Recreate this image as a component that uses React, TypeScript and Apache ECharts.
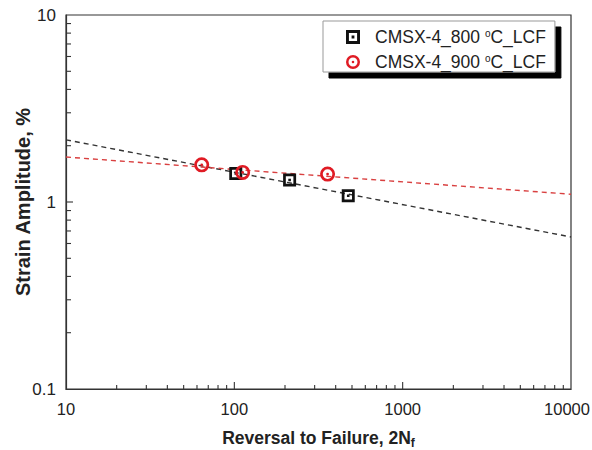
import React, { useEffect, useRef } from "react";
import * as echarts from "echarts";

const reversals800 = [102, 213, 475];
const strain800 = [1.42, 1.31, 1.08];
const reversals900 = [64, 112, 358];
const strain900 = [1.58, 1.44, 1.41];
const fit800X = [10, 10000];
const fit800Y = [2.15, 0.65];
const fit900X = [10, 10000];
const fit900Y = [1.74, 1.10];
const xMajorTicks = [100, 1000];
const yMajorTicks = [1];
const xMinorTicks = [20, 30, 40, 50, 60, 70, 80, 90, 200, 300, 400, 500, 600, 700, 800, 900, 2000, 3000, 4000, 5000, 6000, 7000, 8000, 9000];
const yMinorTicks = [0.2, 0.3, 0.4, 0.5, 0.6, 0.7, 0.8, 0.9, 2, 3, 4, 5, 6, 7, 8, 9];
const seriesNames = ["CMSX-4_800 °C_LCF", "CMSX-4_900 °C_LCF"];

const SQUARE = "path://M0,0H12V12H0Z M2.5,2.5V9.5H9.5V2.5Z M4.8,4.8H7.2V7.2H4.8Z";
const CIRCLE = "path://M7,0A7,7 0 1,1 7,14A7,7 0 1,1 7,0Z M7,2.5A4.5,4.5 0 1,0 7,11.5A4.5,4.5 0 1,0 7,2.5Z M7,5.7A1.3,1.3 0 1,1 7,8.3A1.3,1.3 0 1,1 7,5.7Z";

export default function App() {
  const ref = useRef<HTMLDivElement>(null);
  useEffect(() => {
    if (!ref.current) return;
    const chart = echarts.init(ref.current, null, { renderer: "svg" });
    const font = "'Liberation Sans', Arial, sans-serif";
    chart.setOption({
      animation: false,
      backgroundColor: "#fff",
      grid: {
        left: 66,
        right: 21,
        top: 15,
        bottom: 61,
        containLabel: false,
        outerBoundsMode: "none",
        show: true,
        borderColor: "#333",
        borderWidth: 1.2,
        backgroundColor: "transparent",
      },
      legend: {
        data: [
          { name: seriesNames[0], icon: SQUARE },
          { name: seriesNames[1], icon: CIRCLE },
        ],
        orient: "vertical",
        left: 323,
        top: 21,
        padding: [7, 9, 1, 23],
        itemWidth: 34,
        itemHeight: 14,
        itemGap: 7,
        backgroundColor: "#fff",
        borderColor: "#999",
        borderWidth: 1,
        shadowColor: "#000",
        shadowBlur: 0,
        shadowOffsetX: 6,
        shadowOffsetY: 6,
        formatter: (name: string) => {
          const t = name.split(" °");
          return `{a|${t[0]} }{s|o}{a|${t[1]}}`;
        },
        textStyle: {
          rich: {
            a: { fontFamily: font, fontSize: 17.5, color: "#222" },
            s: { fontFamily: font, fontSize: 10, color: "#222", verticalAlign: "top", padding: [0, 0, 8, 0] },
          },
        },
      },
      xAxis: {
        type: "log",
        logBase: 10,
        min: 10,
        max: 10000,
        name: "{m|Reversal to Failure, 2N}{sub|f}",
        nameLocation: "middle",
        nameGap: 38,
        nameMoveOverlap: false,
        nameTextStyle: {
          rich: {
            m: { fontFamily: font, fontSize: 17.5, fontWeight: "bold", color: "#222" },
            sub: { fontFamily: font, fontSize: 12, fontWeight: "bold", color: "#222", padding: [10, 0, 0, 0] },
          },
        },
        axisLine: { show: true, lineStyle: { color: "#333", width: 1.2 } },
        axisTick: { show: false },
        axisLabel: {
          fontFamily: font,
          fontSize: 16.5,
          color: "#222",
          margin: 11,
          formatter: (v: number) => (v >= 10000 ? `{r|${v}}` : String(v)),
          rich: { r: { fontFamily: font, fontSize: 16.5, color: "#222", padding: [0, 8, 0, 0] } },
        },
        splitLine: { show: false },
      },
      yAxis: {
        type: "log",
        logBase: 10,
        min: 0.1,
        max: 10,
        name: "Strain Amplitude, %",
        nameLocation: "middle",
        nameGap: 33,
        nameMoveOverlap: false,
        nameTextStyle: { fontFamily: font, fontSize: 20, fontWeight: "bold", color: "#222" },
        axisLine: { show: true, lineStyle: { color: "#333", width: 1.2 } },
        axisTick: { show: false },
        axisLabel: { fontFamily: font, fontSize: 17, color: "#222", margin: 10, formatter: (v: number) => String(v) },
        splitLine: { show: false },
      },
      series: [
        {
          name: "fit800",
          type: "line",
          data: fit800X.map((x, i) => [x, fit800Y[i]]),
          showSymbol: false,
          symbol: "none",
          lineStyle: { color: "#333", width: 1.4, type: [5, 4] },
          z: 2,
        },
        {
          name: "fit900",
          type: "line",
          data: fit900X.map((x, i) => [x, fit900Y[i]]),
          showSymbol: false,
          symbol: "none",
          lineStyle: { color: "#d94040", width: 1.4, type: [5, 4] },
          z: 2,
        },
        {
          name: seriesNames[0],
          type: "scatter",
          symbol: SQUARE,
          symbolSize: 13,
          itemStyle: { color: "#111", opacity: 1 },
          data: reversals800.map((x, i) => [x, strain800[i]]),
          z: 3,
        },
        {
          name: seriesNames[1],
          type: "scatter",
          symbol: CIRCLE,
          symbolSize: 15,
          itemStyle: { color: "#e01b24", opacity: 1 },
          data: reversals900.map((x, i) => [x, strain900[i]]),
          z: 4,
        },
      ],
    });

    const ticks: any[] = [];
    const px = (x: number, y: number) => chart.convertToPixel({ gridIndex: 0 }, [x, y]) as number[];
    const addX = (v: number, len: number) => {
      const p = px(v, 0.1);
      ticks.push({
        type: "line",
        silent: true,
        z: 50,
        shape: { x1: p[0], y1: p[1], x2: p[0], y2: p[1] - len },
        style: { stroke: "#333", lineWidth: 1.1 },
      });
    };
    const addY = (v: number, len: number) => {
      const p = px(10, v);
      ticks.push({
        type: "line",
        silent: true,
        z: 50,
        shape: { x1: p[0], y1: p[1], x2: p[0] + len, y2: p[1] },
        style: { stroke: "#333", lineWidth: 1.1 },
      });
    };
    xMinorTicks.forEach((v) => addX(v, 4));
    xMajorTicks.forEach((v) => addX(v, 7));
    yMinorTicks.forEach((v) => addY(v, 5));
    yMajorTicks.forEach((v) => addY(v, 7));
    chart.setOption({ graphic: ticks });

    return () => chart.dispose();
  }, []);
  return <div ref={ref} style={{ width: 592, height: 450, position: "absolute", left: 0, top: 0 }} />;
}
